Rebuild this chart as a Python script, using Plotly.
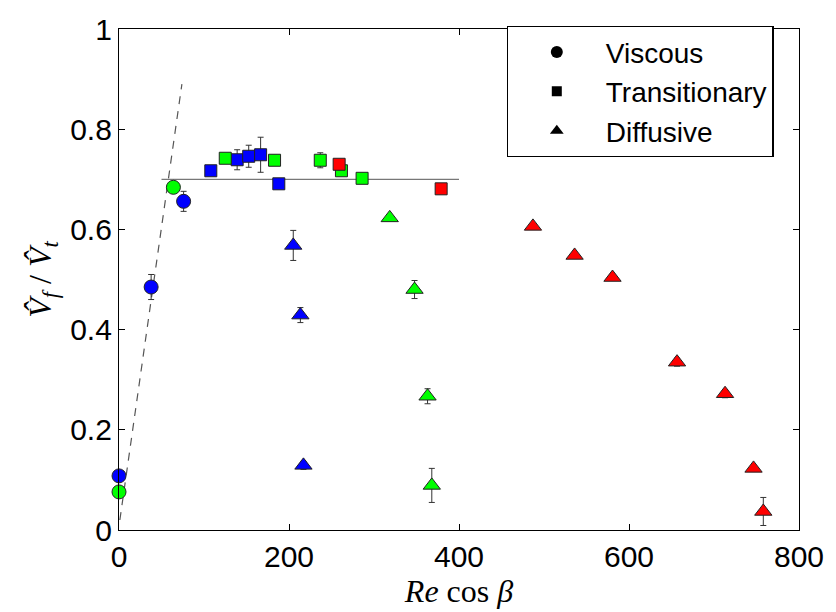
import plotly.graph_objects as go

# ---- data ----
vis_blue_x = [0, 37.8, 76]
vis_blue_y = [0.108, 0.485, 0.656]
vis_blue_e = [0, 0.025, 0.02]
vis_green_x = [0, 64]
vis_green_y = [0.076, 0.684]
vis_green_e = [0, 0]

tr_blue_x = [108, 139, 152.6, 166.6, 188]
tr_blue_y = [0.717, 0.739, 0.746, 0.749, 0.691]
tr_blue_e = [0.008, 0.02, 0.022, 0.035, 0.008]
tr_green_x = [125, 183, 236.8, 261.7, 286]
tr_green_y = [0.742, 0.738, 0.738, 0.717, 0.702]
tr_green_e = [0, 0.01, 0.015, 0, 0]
tr_red_x = [259, 379]
tr_red_y = [0.730, 0.681]
tr_red_e = [0, 0]

di_blue_x = [205, 213.4, 217]
di_blue_y = [0.568, 0.429, 0.129]
di_blue_e = [0.03, 0.015, 0.008]
di_green_x = [318.5, 347.7, 363, 368]
di_green_y = [0.623, 0.480, 0.267, 0.089]
di_green_e = [0, 0.018, 0.015, 0.034]
di_red_x = [487, 536, 580.6, 656.5, 713, 746.5, 758]
di_red_y = [0.606, 0.548, 0.504, 0.335, 0.272, 0.123, 0.037]
di_red_e = [0, 0, 0, 0.008, 0.008, 0, 0.028]

dash_x = [1, 74]
dash_y = [0.02, 0.89]
flat_x = [50, 400]
flat_y = [0.70, 0.70]

legend_names = ["Viscous", "Transitionary", "Diffusive"]
x_ticks = [0, 200, 400, 600, 800]
y_ticks = [0, 0.2, 0.4, 0.6, 0.8, 1]

BLUE, GREEN, RED = "#0000ff", "#00ff00", "#ff0000"

fig = go.Figure()

# reference lines
fig.add_trace(go.Scatter(x=dash_x, y=dash_y, mode="lines", showlegend=False,
                         line=dict(color="#555555", width=1.2, dash="8px,7px"), hoverinfo="skip"))
fig.add_trace(go.Scatter(x=flat_x, y=flat_y, mode="lines", showlegend=False,
                         line=dict(color="#777777", width=1.2), hoverinfo="skip"))

def add(xs, ys, es, color, symbol, size):
    fig.add_trace(go.Scatter(
        x=xs, y=ys, mode="markers", showlegend=False, cliponaxis=False,
        error_y=dict(type="data", array=es, visible=True, color="#333333",
                     thickness=1, width=3),
        marker=dict(color=color, symbol=symbol, size=size,
                    line=dict(color="#222222", width=1))))

add(vis_blue_x, vis_blue_y, vis_blue_e, BLUE, "circle", 14)
add(vis_green_x, vis_green_y, vis_green_e, GREEN, "circle", 14)
add(tr_blue_x, tr_blue_y, tr_blue_e, BLUE, "square", 12)
add(tr_green_x, tr_green_y, tr_green_e, GREEN, "square", 12)
add(tr_red_x, tr_red_y, tr_red_e, RED, "square", 12)
add(di_blue_x, di_blue_y, di_blue_e, BLUE, "triangle-up", 15)
add(di_green_x, di_green_y, di_green_e, GREEN, "triangle-up", 15)
add(di_red_x, di_red_y, di_red_e, RED, "triangle-up", 15)

# legend entries (black symbols)
for name, sym, sz in zip(legend_names, ["circle", "square", "triangle-up"], [12, 10, 12]):
    fig.add_trace(go.Scatter(x=[None], y=[None], mode="markers", name=name,
                             marker=dict(color="black", symbol=sym, size=sz)))

axis_common = dict(showline=True, linecolor="black", linewidth=1.2, mirror="ticks",
                   ticks="inside", ticklen=6, tickcolor="black", showgrid=False,
                   zeroline=False, ticklabeloverflow="allow",
                   tickfont=dict(family="Liberation Sans, Arial, sans-serif", size=30, color="black"))

fig.update_xaxes(range=[0, 800], tickvals=x_ticks, **axis_common,
                 title=dict(text="<i>Re</i> cos <i>β</i>", standoff=2,
                            font=dict(family="Liberation Serif, serif", size=32, color="black")))
fig.update_yaxes(range=[0, 1], tickvals=y_ticks, **axis_common,
                 title=dict(text="<i>V̂<sub>f</sub></i> / <i>V̂<sub>t</sub></i>", standoff=8,
                            font=dict(family="Liberation Serif, serif", size=32, color="black")))

fig.update_layout(
    width=836, height=612,
    margin=dict(l=119, r=31, t=15, b=82),
    plot_bgcolor="white", paper_bgcolor="white",
    legend=dict(x=0.57, y=1.006, xanchor="left", yanchor="top",
                bordercolor="black", borderwidth=1.2, bgcolor="white",
                itemwidth=88, tracegroupgap=0,
                font=dict(family="Liberation Sans, Arial, sans-serif", size=28, color="black")),
)

fig.write_html("out.html")
